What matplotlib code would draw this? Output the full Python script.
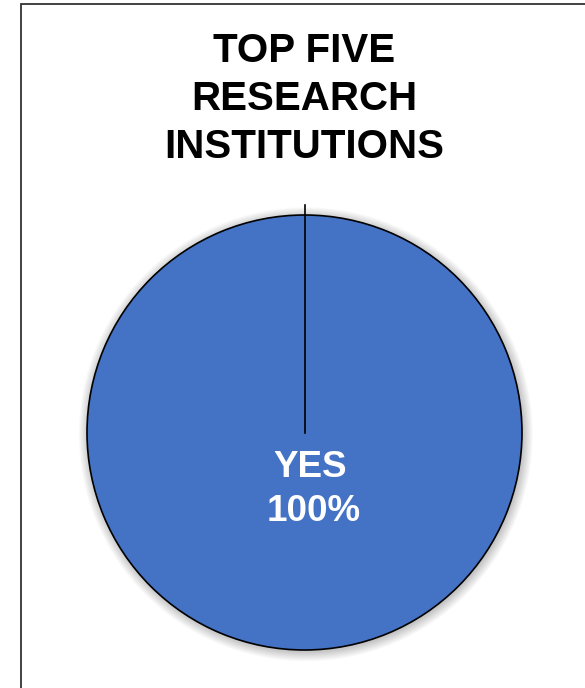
import matplotlib
matplotlib.use("Agg")
import matplotlib.pyplot as plt
from matplotlib.patches import Circle, Rectangle

title_lines = ["TOP FIVE", "RESEARCH", "INSTITUTIONS"]
categories = ["YES"]
values = [100]
colors = ["#4472C4"]

W, H = 585, 688
fig = plt.figure(figsize=(W / 100, H / 100), dpi=100)
fig.patch.set_facecolor("white")

# outer frame (extends beyond right and bottom edges)
fig.patches.append(Rectangle((21 / W, -0.1), 1.2, (H - 4) / H + 0.1,
                             transform=fig.transFigure, fill=False,
                             edgecolor="#333333", linewidth=1.3))

R = 217.5
cx, cy = 304.5, H - 432.5
half = 250
ax = fig.add_axes([(cx - half) / W, (cy - half) / H, 2 * half / W, 2 * half / H])
lim = half / R
ax.set_xlim(-lim, lim)
ax.set_ylim(-lim, lim)
ax.set_aspect("equal")
ax.axis("off")

# soft shadow
for i in range(12):
    r = 1.0 + i * 0.004
    ax.add_patch(Circle((0.006, -0.008), r, facecolor="black", alpha=0.018,
                        edgecolor="none", zorder=0))

wedges, _ = ax.pie(values, colors=colors, startangle=90, counterclock=False,
                   radius=1.0, center=(0, 0),
                   wedgeprops=dict(edgecolor="black", linewidth=1.2))
ax.set_xlim(-lim, lim)
ax.set_ylim(-lim, lim)

# slice boundary line
ax.plot([0, 0], [0, 1.046], color="black", linewidth=1.2, zorder=5)

# data label
total = sum(values)
for cat, v in zip(categories, values):
    ax.text(0.026, -0.203, cat, ha="center", va="baseline", color="white",
            fontsize=26.5, fontweight="bold", family="Liberation Sans", zorder=6)
    ax.text(0.042, -0.407, f"{v / total * 100:.0f}%", ha="center", va="baseline",
            color="white", fontsize=26.5, fontweight="bold",
            family="Liberation Sans", zorder=6)

baselines = [62, 110, 158]
for line, b in zip(title_lines, baselines):
    fig.text(304 / W, (H - b) / H, line, ha="center", va="baseline",
             fontsize=29, fontweight="bold", family="Liberation Sans",
             color="black")

fig.savefig("out.png", dpi=100, facecolor="white")
